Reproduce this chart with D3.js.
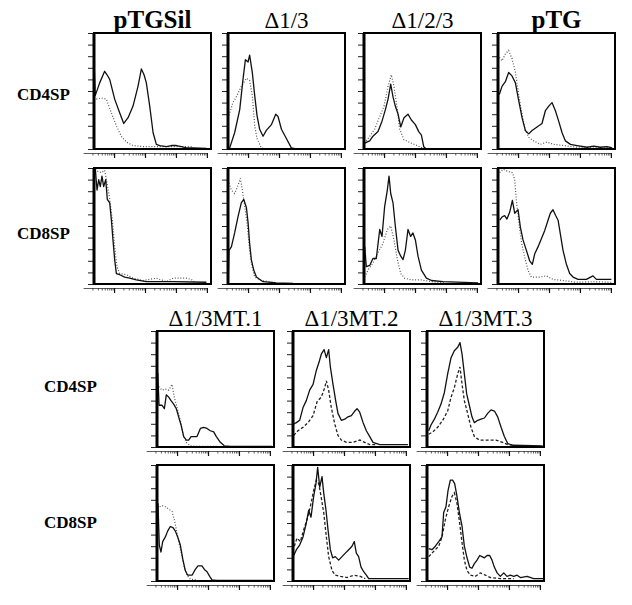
<!DOCTYPE html>
<html><head><meta charset="utf-8">
<script src="https://cdn.jsdelivr.net/npm/d3@7"></script>
<style>body{margin:0;background:#fff}svg{display:block}</style>
</head><body>
<svg id="c" width="632" height="605"></svg>
<script>
// ---- DATA (x = FACS channel on 4-decade log scale, 256 ch/decade; y = % of full scale) ----
const titlesTop = ["pTGSil", "\u03941/3", "\u03941/2/3", "pTG"];
const titlesBottom = ["\u03941/3MT.1", "\u03941/3MT.2", "\u03941/3MT.3"];
const rowLabels = ["CD4SP", "CD8SP"];
const xMajorTicks = [10, 100, 1000, 10000];

const pTGSil_CD4_solid = [[92,71],[100,46],[137,57],[178,67],[198,64],[220,60],[261,43],[303,31],[336,22],[372,27],[413,37],[454,54],[482,69],[504,64],[523,57],[551,37],[579,14],[606,4],[634,3],[689,2],[730,3],[772,3],[813,2],[854,1],[910,1],[1020,0.5]];
const pTGSil_CD4_dot = [[109,43],[151,44],[192,43],[234,31],[275,20],[316,11],[358,6],[413,3],[496,2],[634,2],[772,2],[910,2]];
const d13_CD4_solid = [[92,1],[104,1],[145,14],[187,34],[214,60],[234,77],[256,75],[269,81],[291,66],[311,46],[330,29],[352,17],[380,11],[407,16],[449,21],[485,30],[504,28],[532,17],[573,9],[614,1],[656,0],[1055,0]];
const d13_CD4_dot = [[98,29],[131,40],[164,46],[200,54],[242,61],[269,59],[291,46],[311,20],[330,9],[366,1],[407,0]];
const d123_CD4_solid = [[96,5],[137,7],[164,11],[206,15],[239,24],[267,34],[289,43],[311,56],[330,45],[349,37],[372,30],[394,19],[421,27],[454,30],[482,25],[515,21],[543,15],[565,12],[584,2],[606,0]];
const d123_CD4_dot = [[96,5],[137,11],[178,17],[220,28],[256,37],[289,54],[316,64],[338,54],[366,34],[385,17],[421,8],[482,5],[551,2],[592,0]];
const pTG_CD4_solid = [[101,47],[123,54],[151,58],[178,66],[206,63],[234,57],[261,42],[289,27],[316,16],[344,13],[372,16],[413,19],[454,22],[482,33],[510,37],[537,40],[565,33],[592,24],[620,14],[648,7],[689,4],[744,3],[827,1.5],[882,2.5],[937,1.5],[992,2],[1034,1]];
const pTG_CD4_dot = [[101,79],[123,76],[151,82],[178,85],[206,78],[234,66],[261,47],[289,30],[316,16],[344,10],[385,7],[440,4],[495,6],[550,4],[633,3],[744,1.5],[882,1.5],[1034,1.5]];

const pTGSil_CD8_solid = [[101,99],[115,81],[129,90],[142,84],[156,93],[170,84],[187,90],[200,73],[220,70],[234,55],[247,38],[261,21],[275,9],[303,8],[344,6],[385,5],[440,3.5],[523,2],[744,2],[1020,1.5]];
const pTGSil_CD8_dot = [[101,99],[123,97],[151,96],[178,98],[198,87],[220,73],[242,55],[261,32],[280,15],[303,9],[358,8],[413,5],[496,3],[606,5],[689,2],[744,5],[799,5],[854,5],[895,4],[923,1.5]];
const d13_CD8_solid = [[93,8],[98,29],[118,32],[145,44],[173,58],[200,70],[220,73],[242,66],[256,53],[269,35],[283,21],[303,12],[325,6],[380,2],[490,1],[628,0.5]];
const d13_CD8_dot = [[98,87],[118,81],[145,78],[173,85],[192,91],[209,81],[228,67],[247,53],[269,29],[289,15],[311,6],[366,3],[435,2],[490,1]];
const d123_CD8_solid = [[96,32],[109,15],[137,16],[164,22],[192,22],[220,47],[239,41],[261,67],[283,81],[297,93],[311,78],[330,70],[349,50],[372,29],[394,24],[413,21],[432,29],[454,47],[476,41],[495,44],[515,38],[537,24],[565,12],[606,5],[648,3],[744,2],[1034,1]];
const d123_CD8_dot = [[96,6],[123,12],[164,18],[206,27],[247,35],[283,47],[311,50],[338,38],[366,21],[394,9],[426,5],[482,3.5],[565,3.5],[648,2],[757,1]];
const pTG_CD8_solid = [[104,55],[126,58],[145,59],[164,56],[187,62],[209,72],[228,61],[256,64],[275,49],[297,38],[325,29],[352,20],[374,17],[394,26],[421,32],[449,39],[476,46],[504,55],[523,61],[545,64],[567,59],[587,55],[606,43],[628,29],[656,17],[683,9],[711,6],[752,4],[821,4],[876,7],[904,4],[1028,4]];
const pTG_CD8_dot = [[104,96],[131,99],[173,97],[209,96],[228,90],[242,72],[264,52],[286,35],[311,23],[338,12],[366,6],[435,6],[490,7],[545,4],[628,3],[738,1.5],[876,2],[1028,1.5]];

const mt1_CD4_solid = [[96,64],[107,36],[131,36],[151,33],[167,45],[187,43],[206,40],[228,37],[250,33],[269,26],[289,19],[311,9],[333,6],[352,6],[372,9],[421,9],[449,16],[476,17],[504,16],[531,14],[559,13],[581,9],[614,4],[647,1],[697,0.5],[1041,0.5]];
const mt1_CD4_dot = [[104,52],[131,49],[159,50],[187,49],[214,54],[233,43],[256,34],[283,23],[305,11],[333,4],[366,1],[421,0.5],[586,0.5]];
const mt2_CD4_solid = [[96,20],[118,21],[145,23],[173,34],[200,40],[228,49],[256,54],[283,66],[305,73],[324,80],[347,84],[366,77],[385,84],[399,69],[421,54],[443,40],[462,29],[490,23],[518,24],[545,26],[573,27],[601,31],[620,33],[642,30],[670,21],[697,14],[725,9],[752,4],[808,2],[1041,2]];
const mt2_CD4_dash = [[96,10],[131,14],[173,17],[214,21],[256,27],[289,39],[324,43],[352,51],[366,57],[385,49],[407,34],[435,20],[462,10],[490,6],[532,4],[587,4],[642,6],[683,4],[725,2],[780,2]];
const mt3_CD4_solid = [[104,14],[123,19],[151,24],[178,30],[206,37],[234,47],[261,63],[289,77],[316,83],[344,86],[363,90],[380,80],[399,63],[418,46],[440,36],[462,26],[482,21],[510,23],[537,24],[565,25],[592,29],[620,32],[648,31],[675,26],[703,17],[730,9],[758,3],[799,1.5],[1047,1]];
const mt3_CD4_dash = [[104,11],[137,13],[178,17],[220,23],[261,31],[289,43],[316,51],[344,63],[363,69],[380,54],[399,40],[426,29],[454,17],[482,9],[523,6],[578,6],[661,6],[716,4],[758,2],[799,1.5]];

const mt1_CD8_solid = [[98,67],[109,31],[123,25],[137,34],[159,38],[178,43],[200,47],[222,46],[242,43],[261,38],[283,31],[305,18],[324,9],[344,5],[380,5],[407,10],[429,13],[462,13],[482,10],[504,8],[526,4],[545,1],[587,0.5],[1041,0.5]];
const mt1_CD8_dot = [[112,64],[131,65],[159,64],[187,62],[214,60],[233,53],[256,41],[278,30],[297,21],[316,12],[338,5],[366,1.5],[421,1]];
const mt2_CD8_solid = [[96,22],[118,27],[145,31],[173,38],[200,50],[220,61],[239,55],[261,73],[280,84],[294,98],[311,81],[330,90],[344,76],[363,61],[380,44],[399,27],[418,20],[440,21],[468,18],[495,21],[523,24],[551,27],[578,30],[597,34],[614,24],[633,21],[653,12],[675,8],[697,5],[716,2],[1047,2]];
const mt2_CD8_dash = [[101,30],[123,37],[151,34],[178,44],[206,53],[233,64],[261,78],[283,87],[303,84],[322,73],[344,59],[366,38],[385,21],[413,9],[440,5],[482,4],[537,3],[592,5],[647,4],[688,2]];
const mt3_CD8_solid = [[104,28],[131,27],[159,30],[187,34],[214,38],[228,59],[247,64],[264,78],[283,87],[302,87],[319,84],[338,73],[358,59],[380,47],[399,30],[421,20],[443,12],[462,11],[482,15],[504,18],[526,22],[545,21],[565,20],[587,22],[609,22],[628,18],[647,12],[670,7],[697,4],[725,7],[752,4],[780,5],[808,4],[835,5],[863,3],[918,4],[973,2],[1050,2]];
const mt3_CD8_dash = [[104,21],[131,24],[159,27],[187,30],[214,38],[242,53],[269,64],[297,73],[316,76],[338,67],[360,50],[380,33],[399,18],[421,9],[449,5],[490,4],[531,7],[573,5],[614,3],[697,2],[808,2]];

// ---- LAYOUT ----
const W = 117, H = 116;
const panels = [
  {L:94,  T:33,  title:titlesTop[0], bold:true,  solid:pTGSil_CD4_solid, other:pTGSil_CD4_dot, style:"dot"},
  {L:228, T:33,  title:titlesTop[1], bold:false, solid:d13_CD4_solid,   other:d13_CD4_dot,   style:"dot"},
  {L:364, T:33,  title:titlesTop[2], bold:false, solid:d123_CD4_solid,  other:d123_CD4_dot,  style:"dot"},
  {L:498, T:33,  title:titlesTop[3], bold:true,  solid:pTG_CD4_solid,   other:pTG_CD4_dot,   style:"dot"},
  {L:94,  T:168, solid:pTGSil_CD8_solid, other:pTGSil_CD8_dot, style:"dot"},
  {L:228, T:168, solid:d13_CD8_solid,    other:d13_CD8_dot,    style:"dot"},
  {L:364, T:168, solid:d123_CD8_solid,   other:d123_CD8_dot,   style:"dot"},
  {L:498, T:168, solid:pTG_CD8_solid,    other:pTG_CD8_dot,    style:"dot"},
  {L:157, T:331, title:titlesBottom[0], bold:false, solid:mt1_CD4_solid, other:mt1_CD4_dot,  style:"dot"},
  {L:293, T:331, title:titlesBottom[1], bold:false, solid:mt2_CD4_solid, other:mt2_CD4_dash, style:"dash"},
  {L:427, T:331, title:titlesBottom[2], bold:false, solid:mt3_CD4_solid, other:mt3_CD4_dash, style:"dash"},
  {L:157, T:465, solid:mt1_CD8_solid, other:mt1_CD8_dot,  style:"dot"},
  {L:293, T:465, solid:mt2_CD8_solid, other:mt2_CD8_dash, style:"dash"},
  {L:427, T:465, solid:mt3_CD8_solid, other:mt3_CD8_dash, style:"dash"}
];
const labels = [
  {x:17, y:100, t:rowLabels[0]}, {x:17, y:239, t:rowLabels[1]},
  {x:44, y:392, t:rowLabels[0]}, {x:44, y:528, t:rowLabels[1]}
];

const svg = d3.select("#c");
const serif = "'Liberation Serif','Times New Roman',serif";

const logCh = v => 256 * Math.log10(v);
const minorVals = [];
for (let k = 0; k < 4; k++) for (let m = 2; m <= 9; m++) minorVals.push(m * Math.pow(10, k));

panels.forEach(p => {
  const g = svg.append("g");
  const x = d3.scaleLinear().domain([90, 1058]).range([p.L, p.L + W]);
  const y = d3.scaleLinear().domain([0, 100]).range([p.T + H, p.T]).clamp(true);

  const ya = d3.axisLeft(y).tickValues(d3.range(0, 101, 10)).tickSize(6).tickFormat("");
  g.append("g").attr("transform", `translate(${p.L},0)`).call(ya)
    .call(s => s.select(".domain").remove())
    .selectAll("line").attr("stroke", "#222").attr("stroke-width", 1);

  const xa = x.copy().domain([0, 1024]).range([x(0), x(1024)]);
  const ay = p.T + H + 4;
  g.append("g").attr("transform", `translate(0,${ay})`)
    .call(d3.axisBottom(xa).tickValues(minorVals.map(logCh)).tickSize(2.5).tickSizeOuter(0).tickFormat(""))
    .call(s => s.select(".domain").attr("stroke", "#333").attr("stroke-width", 0.8))
    .selectAll("line").attr("stroke", "#333").attr("stroke-width", 0.8);
  g.append("g").attr("transform", `translate(0,${ay})`)
    .call(d3.axisBottom(xa).tickValues(xMajorTicks.map(logCh)).tickSize(5).tickSizeOuter(0).tickFormat(""))
    .call(s => s.select(".domain").remove())
    .selectAll("line").attr("stroke", "#111").attr("stroke-width", 1.2);

  const line = d3.line().x(d => x(d[0])).y(d => y(d[1]));
  g.append("path").datum(p.other).attr("d", line).attr("fill", "none")
    .attr("stroke", p.style === "dot" ? "#555" : "#222")
    .attr("stroke-width", p.style === "dot" ? 1.2 : 1.3)
    .attr("stroke-dasharray", p.style === "dot" ? "1,1.8" : "3,2");
  g.append("path").datum(p.solid).attr("d", line).attr("fill", "none")
    .attr("stroke", "#111").attr("stroke-width", 1.3).attr("stroke-linejoin", "round");

  g.append("rect").attr("x", p.L).attr("y", p.T).attr("width", W).attr("height", H)
    .attr("fill", "none").attr("stroke", "#000").attr("stroke-width", 2);
  g.append("line").attr("x1", p.L).attr("x2", p.L).attr("y1", p.T).attr("y2", p.T + H)
    .attr("stroke", "#000").attr("stroke-width", 3);

  if (p.title) {
    g.append("text").attr("x", p.L + W / 2).attr("y", p.T - 5)
      .attr("text-anchor", "middle").attr("font-family", serif)
      .attr("font-weight", p.bold ? "bold" : "normal")
      .attr("font-size", p.bold ? 25 : 23).attr("fill", "#000").text(p.title);
  }
});

labels.forEach(l => {
  svg.append("text").attr("x", l.x).attr("y", l.y).attr("font-family", serif)
    .attr("font-weight", "bold").attr("font-size", 17).attr("fill", "#000").text(l.t);
});
</script>
</body></html>
